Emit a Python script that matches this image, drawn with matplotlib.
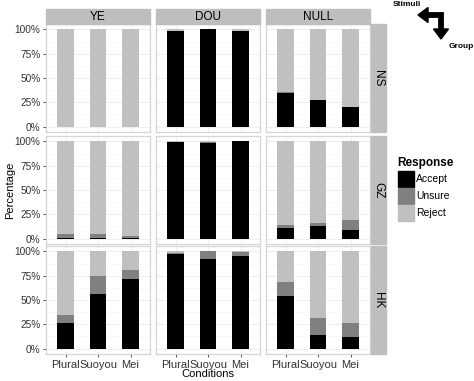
import matplotlib.pyplot as plt
from matplotlib.patches import Rectangle, Polygon
import numpy as np

plt.rcParams['font.family'] = ['Liberation Sans', 'DejaVu Sans']

W, H = 474, 381

groups = ['NS', 'GZ', 'HK']
stimuli = ['YE', 'DOU', 'NULL']
conditions = ['Plural', 'Suoyou', 'Mei']
responses = ['Accept', 'Unsure', 'Reject']
resp_colors = ['#000000', '#808080', '#C0C0C0']

# percentages per group, one list per stimulus (YE, DOU, NULL), values per condition
accept = {
    'NS': [[0, 0, 0], [98, 100, 98.5], [35, 27.5, 20]],
    'GZ': [[1, 1, 0.5], [99.5, 98, 100], [10.5, 12.5, 9]],
    'HK': [[26.5, 56, 72], [97, 92.5, 95], [54, 14.5, 11.5]],
}
unsure = {
    'NS': [[0, 0, 0], [0, 0, 0], [1, 0, 0]],
    'GZ': [[3.5, 3.5, 2], [0, 1, 0], [3.5, 4, 10]],
    'HK': [[8, 19, 8.5], [1, 7.5, 4], [14, 16.5, 15]],
}
reject = {
    'NS': [[100, 100, 100], [2, 0, 1.5], [64, 72.5, 80]],
    'GZ': [[95.5, 95.5, 97.5], [0.5, 1, 0], [86, 83.5, 81]],
    'HK': [[65.5, 25, 19.5], [2, 0, 1], [32, 69, 73.5]],
}


def px_rect(x, y, w, h):
    return [x / W, 1 - (y + h) / H, w / W, h / H]


fig = plt.figure(figsize=(W / 100, H / 100), dpi=100)

col_x = [46, 156, 266]
row_y = [24, 136, 246]
pw, ph = 104, 108
strip_col = '#BEBEBE'
text_col = '#333333'
xs = np.arange(1, len(conditions) + 1)

for r, g in enumerate(groups):
    for c, s in enumerate(stimuli):
        ax = fig.add_axes(px_rect(col_x[c], row_y[r], pw, ph))
        a = np.array(accept[g][c])
        u = np.array(unsure[g][c])
        rj = np.array(reject[g][c])
        ax.bar(xs, a, width=0.5, color=resp_colors[0], zorder=3)
        ax.bar(xs, u, width=0.5, bottom=a, color=resp_colors[1], zorder=3)
        ax.bar(xs, rj, width=0.5, bottom=a + u, color=resp_colors[2], zorder=3)
        ax.set_xlim(0.4, 3.6)
        ax.set_ylim(-5.5, 105.5)
        ax.set_yticks([0, 25, 50, 75, 100])
        ax.set_yticks([12.5, 37.5, 62.5, 87.5], minor=True)
        ax.set_xticks(xs)
        ax.grid(which='major', color='#EDEDED', lw=0.6, zorder=0)
        ax.grid(which='minor', axis='y', color='#F6F6F6', lw=0.5, zorder=0)
        ax.tick_params(which='minor', length=0)
        ax.tick_params(which='major', length=2.5, color=text_col, width=0.6,
                       labelsize=7.3, labelcolor=text_col, pad=1.5)
        for sp in ax.spines.values():
            sp.set_color('#D5D5D5')
            sp.set_linewidth(0.9)
        if c == 0:
            ax.set_yticklabels(['0%', '25%', '50%', '75%', '100%'])
        else:
            ax.tick_params(axis='y', length=0, labelleft=False)
        if r == len(groups) - 1:
            ax.set_xticklabels(conditions, fontsize=8, color=text_col)
        else:
            ax.tick_params(axis='x', length=0, labelbottom=False)

ov = fig.add_axes([0, 0, 1, 1])
ov.set_xlim(0, W)
ov.set_ylim(H, 0)
ov.axis('off')

# strips
for c, s in enumerate(stimuli):
    ov.add_patch(Rectangle((col_x[c], 9), pw, 15, color=strip_col))
    ov.text(col_x[c] + pw / 2, 16.5, s, ha='center', va='center', fontsize=8.5)
for r, g in enumerate(groups):
    ov.add_patch(Rectangle((371, row_y[r]), 15, ph, color=strip_col))
    ov.text(378.5, row_y[r] + ph / 2, g, ha='center', va='center',
            fontsize=8.5, rotation=-90)

ov.text(10, 190, 'Percentage', rotation=90, ha='center', va='center', fontsize=8)
ov.text(208, 374, 'Conditions', ha='center', va='center', fontsize=8)

# legend
ov.text(397, 163, 'Response', fontweight='bold', fontsize=8.5, va='center')
for i, (lab, col) in enumerate(zip(responses, resp_colors)):
    y0 = 171 + i * 17
    ov.add_patch(Rectangle((398, y0), 16, 16, color=col))
    ov.text(416, y0 + 8, lab, va='center', fontsize=7.5)

# stimuli/group arrow
ov.text(393, 4, 'Stimuli', fontsize=6, fontweight='bold', va='center')
ov.text(449, 47, 'Group', fontsize=6, fontweight='bold', va='center')
ov.plot([427, 441, 441], [15, 15, 30], color='black', lw=4.2,
        solid_joinstyle='miter', solid_capstyle='butt')
ov.add_patch(Polygon([[418, 15], [428, 7.5], [428, 22.5]], color='black'))
ov.add_patch(Polygon([[441, 39], [433.5, 29], [448.5, 29]], color='black'))

fig.savefig('out.png', dpi=100)
